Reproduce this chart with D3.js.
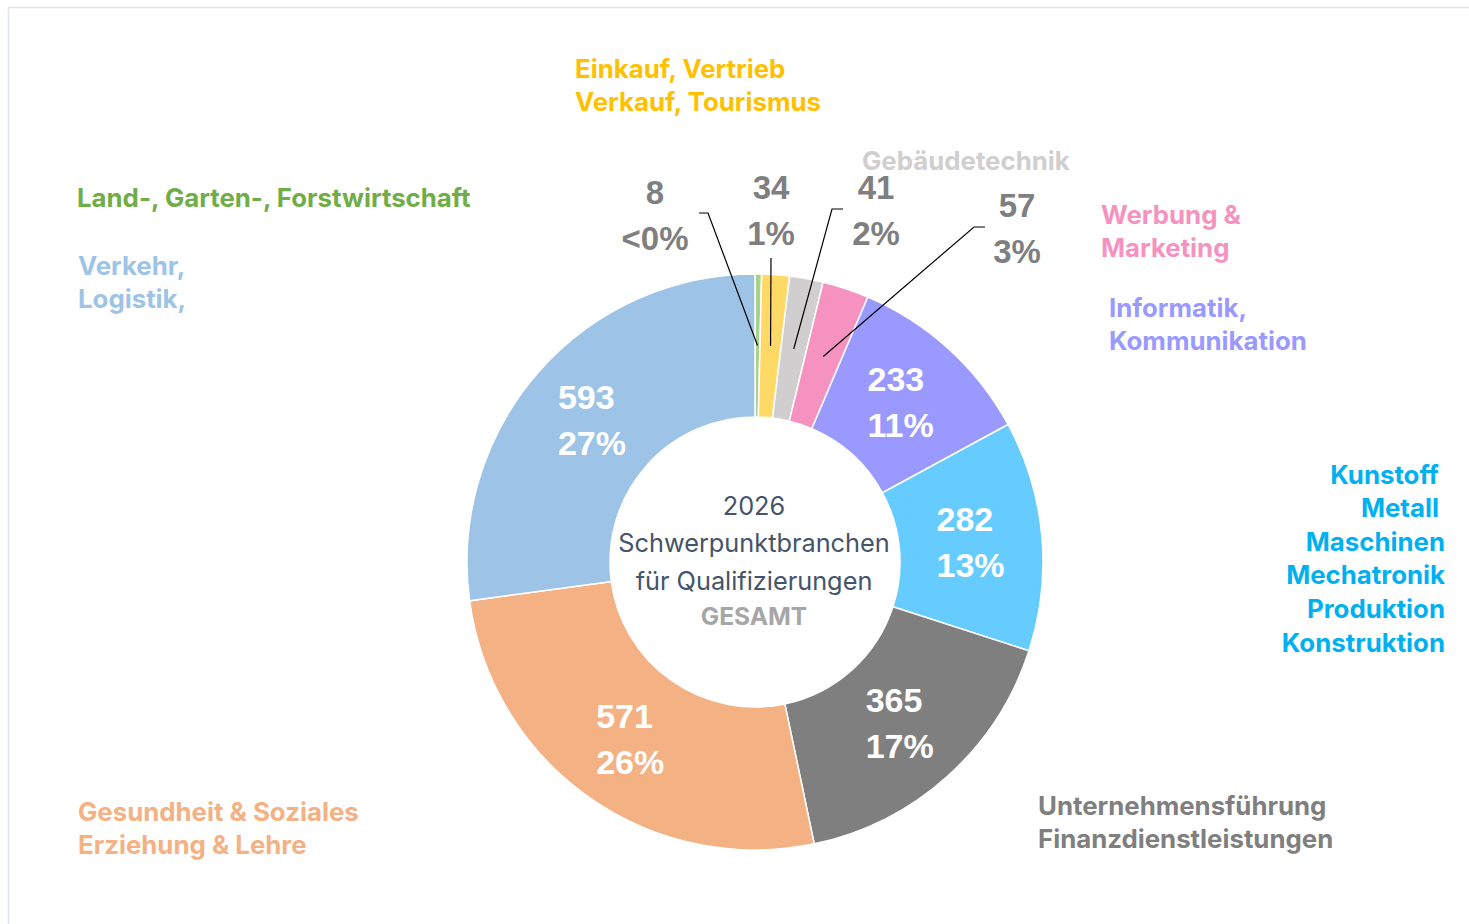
<!DOCTYPE html>
<html>
<head>
<meta charset="utf-8">
<script src="https://cdn.jsdelivr.net/npm/d3@7"></script>
<style>
  body { margin: 0; background: #fff; }
  svg { display: block; }
</style>
</head>
<body>
<div class="chart"></div>
<script>
// Schwerpunktbranchen 2026 - donut

const branchen = ["Land-, Garten-, Forstwirtschaft", "Einkauf, Vertrieb, Verkauf, Tourismus", "Gebäudetechnik",
  "Werbung & Marketing", "Informatik, Kommunikation", "Kunstoff, Metall, Maschinen",
  "Unternehmensführung, Finanzdienstleistungen", "Gesundheit & Soziales, Erziehung & Lehre", "Verkehr, Logistik"];
const anzahl = [8, 34, 41, 57, 233, 282, 365, 571, 593];
const prozent = ["<0%", "1%", "2%", "3%", "11%", "13%", "17%", "26%", "27%"];
const sliceColors = ["#a9d18e", "#ffd966", "#d0cece", "#f592c0", "#9999ff", "#66ccff", "#7f7f7f", "#f4b183", "#9dc3e6"];
const textColors = ["#70ad47", "#ffc000", "#d0cece", "#f592c0", "#9999ff", "#00b0f0", "#7f7f7f", "#f4b183", "#9dc3e6"];
const centerLines = ["2026", "Schwerpunktbranchen", "für Qualifizierungen"];
const centerBold = "GESAMT";

const W = 1469, H = 924;
const cx = 755, cy = 562;
const rOuter = 288, rInner = 145;

const svg = d3.select(".chart").append("svg")
    .attr("width", W)
    .attr("height", H);

// frame
svg.append("rect")
    .attr("x", 8.5).attr("y", 7.5)
    .attr("width", W).attr("height", H)
    .attr("fill", "none")
    .attr("stroke", "#dfe4ea")
    .attr("stroke-width", 1.5);

const pie = d3.pie().sort(null).value(d => d)(anzahl);
const arc = d3.arc().innerRadius(rInner).outerRadius(rOuter);

const g = svg.append("g").attr("transform", `translate(${cx},${cy})`);

g.selectAll("path.slice")
  .data(pie)
  .join("path")
    .attr("class", "slice")
    .attr("d", arc)
    .attr("fill", (d, i) => sliceColors[i])
    .attr("stroke", "#fff")
    .attr("stroke-width", 1.5);

const numFont = "'Liberation Sans', Arial, sans-serif";
const catFont = "Inter, 'Noto Sans', sans-serif";

// labels inside the big slices (lines left-aligned, block centred on centroid)
const big = pie.filter(d => d.value > 100);
big.forEach(d => {
  const [x, y] = arc.centroid(d);
  const texts = [String(d.value), prozent[d.index]].map((t, k) =>
    g.append("text")
      .attr("y", y + (k === 0 ? -23 : 23))
      .attr("dominant-baseline", "central")
      .attr("font-family", numFont)
      .attr("font-weight", "bold")
      .attr("font-size", 34)
      .attr("fill", "#fff")
      .text(t));
  const wMax = d3.max(texts, t => t.node().getComputedTextLength());
  texts.forEach(t => t.attr("x", x - wMax / 2));
});

// small slices: labels outside with leader lines
const outside = [
  { i: 0, x: 655, y: 215, elbow: [[699, 213], [708, 213]] },
  { i: 1, x: 771, y: 210, elbow: [[771, 258]] },
  { i: 2, x: 876, y: 210, elbow: [[843, 209], [832, 209]] },
  { i: 3, x: 1017, y: 228, elbow: [[985, 227], [974, 227]] }
];
outside.forEach(o => {
  const d = pie[o.i];
  const [x, y] = arc.centroid(d);
  const pts = o.elbow.concat([[x + cx, y + cy]]);
  svg.append("path")
    .attr("d", d3.line()(pts))
    .attr("fill", "none")
    .attr("stroke", "#000")
    .attr("stroke-width", 1.2);
  [String(d.value), prozent[d.index]].forEach((t, k) => {
    svg.append("text")
      .attr("x", o.x).attr("y", o.y + (k === 0 ? -23 : 23))
      .attr("text-anchor", "middle")
      .attr("dominant-baseline", "central")
      .attr("font-family", numFont)
      .attr("font-weight", "bold")
      .attr("font-size", 33)
      .attr("fill", "#7f7f7f")
      .text(t);
  });
});

// category labels
const catLabels = [
  { i: 0, x: 77, y: 197, anchor: "start", lines: ["Land-, Garten-, Forstwirtschaft"] },
  { i: 1, x: 575, y: 68, anchor: "start", lines: ["Einkauf, Vertrieb", "Verkauf, Tourismus"] },
  { i: 2, x: 862, y: 160, anchor: "start", lines: ["Gebäudetechnik"] },
  { i: 3, x: 1101, y: 214, anchor: "start", lines: ["Werbung &", "Marketing"] },
  { i: 4, x: 1109, y: 307, anchor: "start", lines: ["Informatik,", "Kommunikation"] },
  { i: 5, x: 1445, y: 474, anchor: "end", lines: ["Kunstoff\u00a0", "Metall\u00a0", "Maschinen", "Mechatronik", "Produktion", "Konstruktion"] },
  { i: 6, x: 1038, y: 805, anchor: "start", lines: ["Unternehmensführung", "Finanzdienstleistungen"] },
  { i: 7, x: 78, y: 811, anchor: "start", lines: ["Gesundheit & Soziales", "Erziehung & Lehre"] },
  { i: 8, x: 78, y: 265, anchor: "start", lines: ["Verkehr,", "Logistik,"] }
];
catLabels.forEach(c => {
  c.lines.forEach((t, k) => {
    svg.append("text")
      .attr("x", c.x).attr("y", c.y + k * 33.6)
      .attr("text-anchor", c.anchor)
      .attr("dominant-baseline", "central")
      .attr("font-family", catFont)
      .attr("font-weight", 700)
      .attr("font-size", 25.8)
      .attr("fill", textColors[c.i])
      .text(t);
  });
});

// centre text
centerLines.forEach((t, k) => {
  svg.append("text")
    .attr("x", cx - 1).attr("y", 505 + k * 37.5)
    .attr("text-anchor", "middle")
    .attr("dominant-baseline", "central")
    .attr("font-family", catFont)
    .attr("font-size", 25.3)
    .attr("fill", "#44546a")
    .text(t);
});
svg.append("text")
  .attr("x", cx - 1).attr("y", 616)
  .attr("text-anchor", "middle")
  .attr("dominant-baseline", "central")
  .attr("font-family", catFont)
  .attr("font-weight", 700)
  .attr("font-size", 24.5)
  .attr("fill", "#a6a6a6")
  .text(centerBold);
</script>
</body>
</html>
